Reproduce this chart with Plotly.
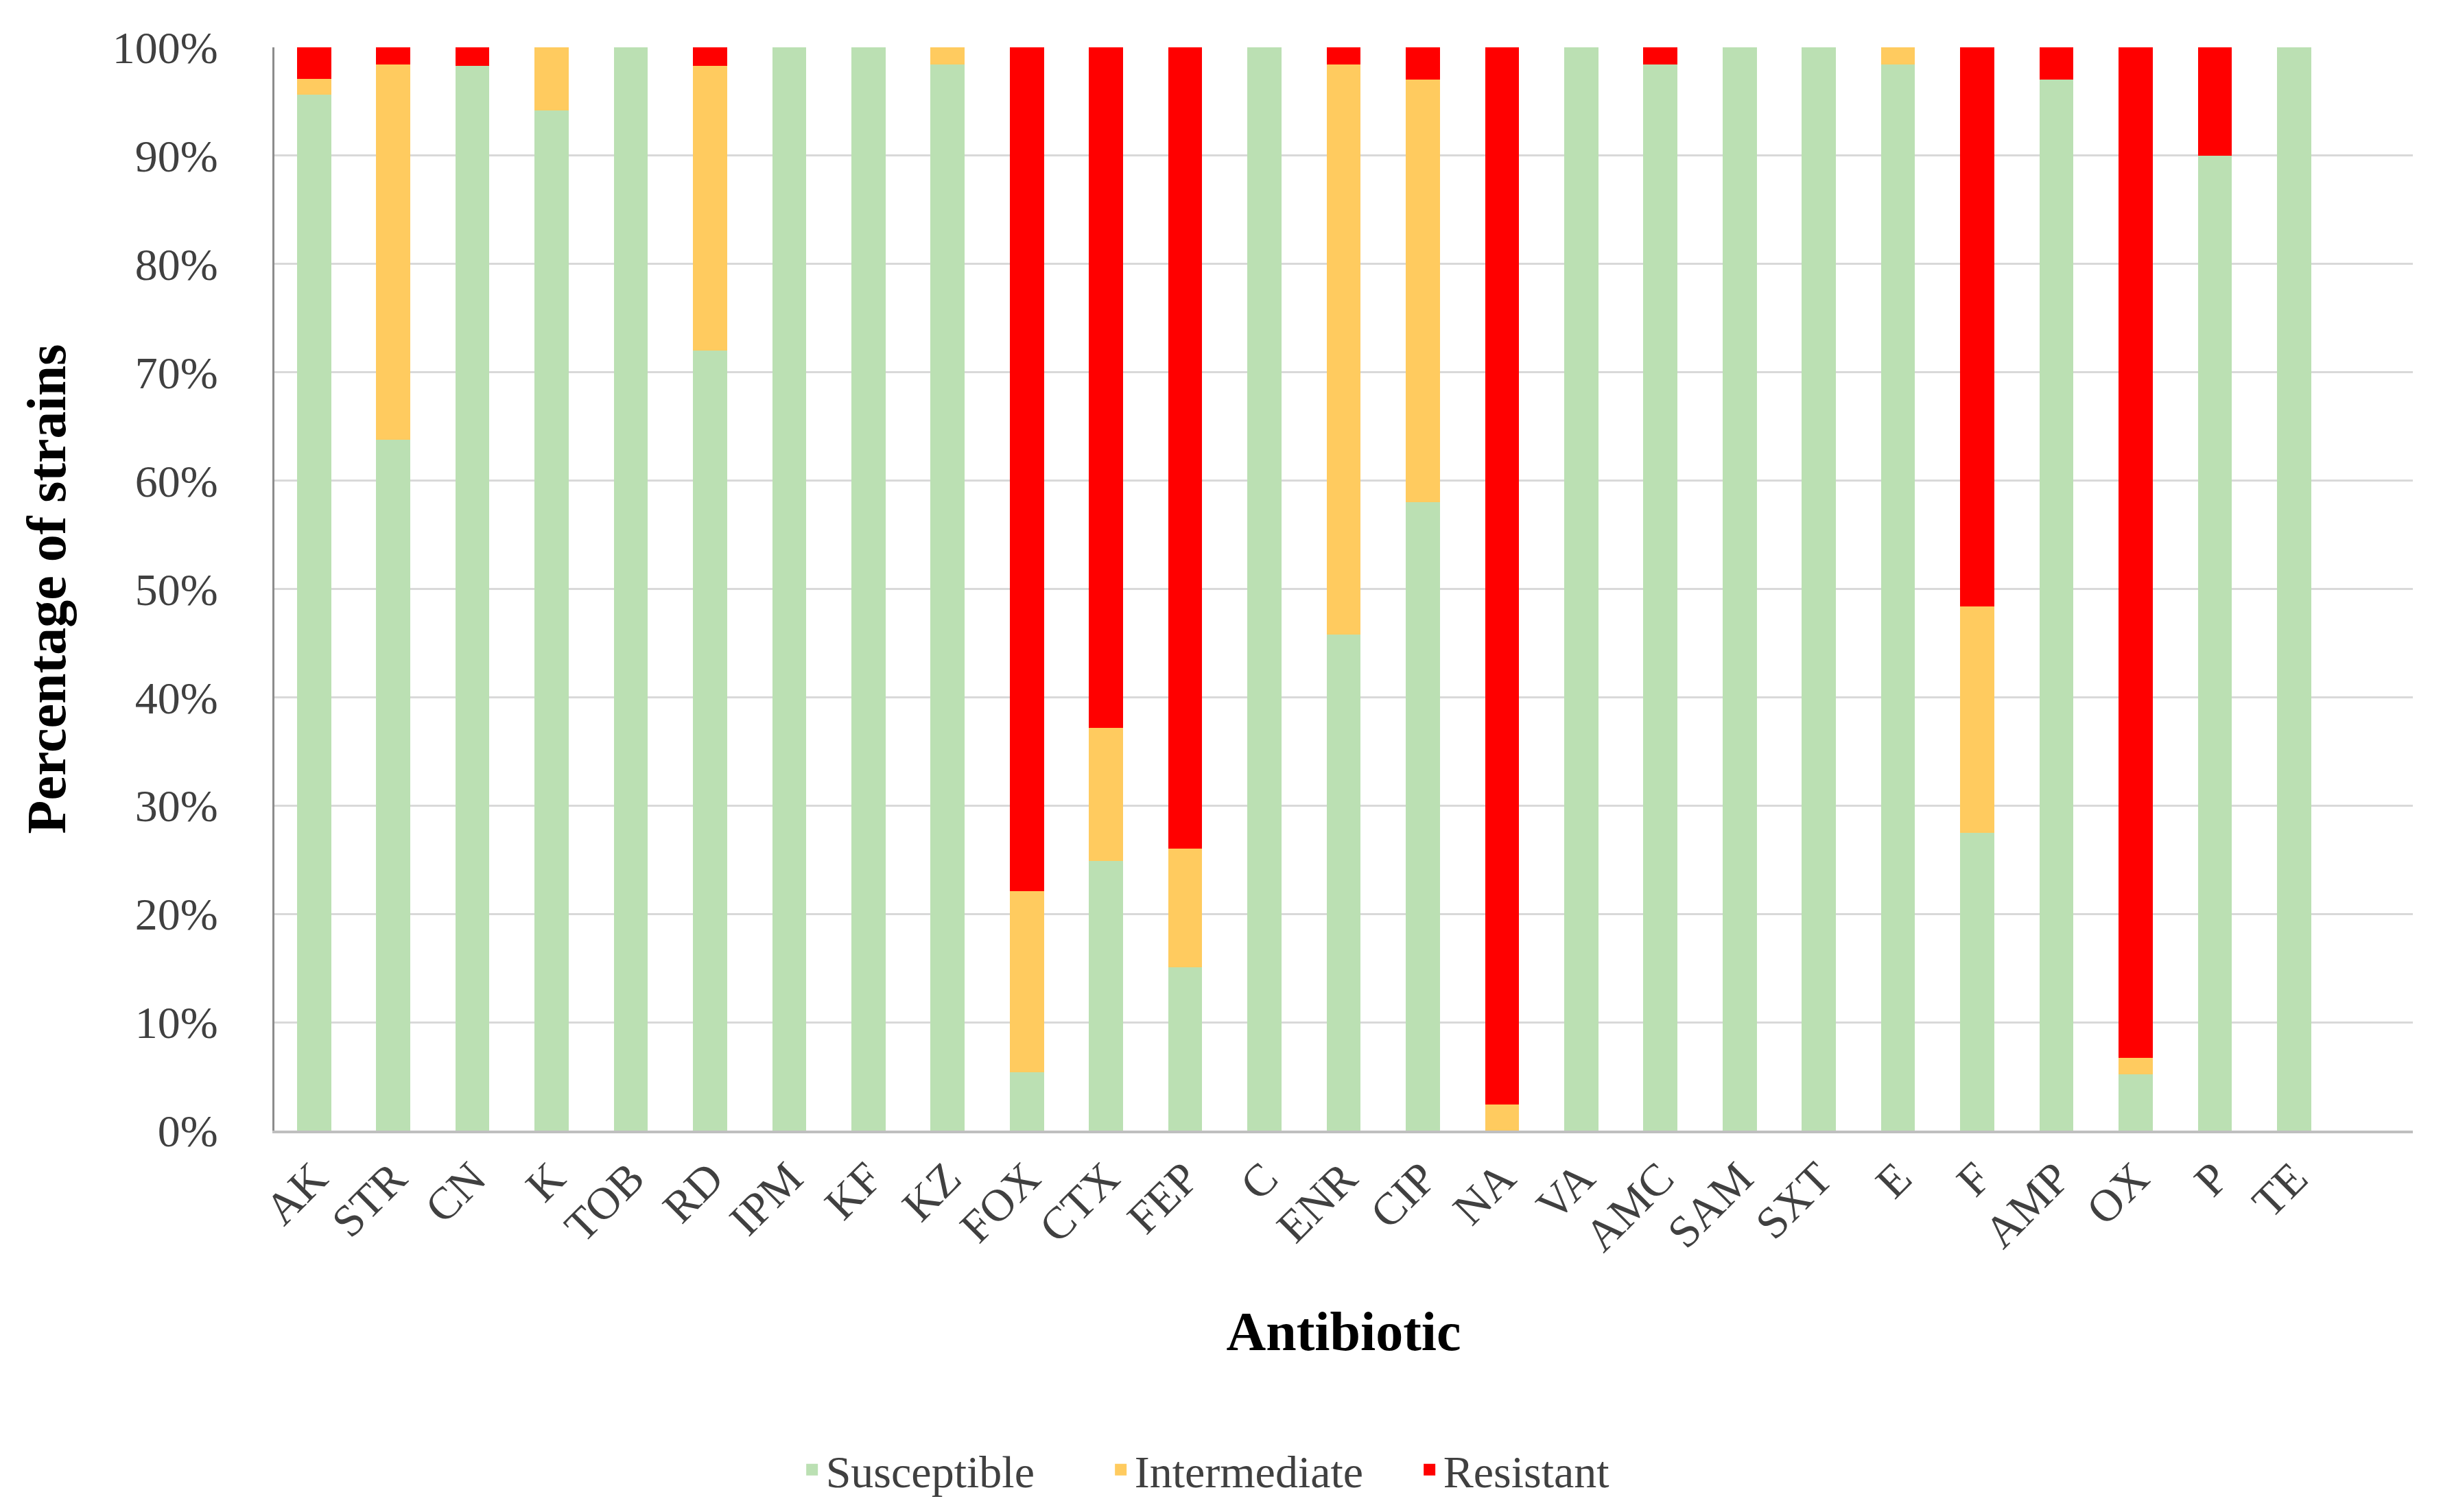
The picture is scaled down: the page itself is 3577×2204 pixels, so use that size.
import plotly.graph_objects as go

categories = ["AK", "STR", "CN", "K", "TOB", "RD", "IPM", "KF", "KZ", "FOX", "CTX", "FEP", "C",
              "ENR", "CIP", "NA", "VA", "AMC", "SAM", "SXT", "E", "F", "AMP", "OX", "P", "TE"]
susceptible = [95.6, 63.8, 98.3, 94.2, 100, 72.0, 100, 100, 98.4, 5.4, 24.9, 15.1, 100,
               45.8, 58.0, 0, 100, 98.4, 100, 100, 98.4, 27.5, 97.0, 5.2, 90.0, 100]
intermediate = [1.5, 34.6, 0, 5.8, 0, 26.3, 0, 0, 1.6, 16.7, 12.3, 10.9, 0,
                52.6, 39.0, 2.4, 0, 0, 0, 0, 1.6, 20.9, 0, 1.5, 0, 0]
resistant = [2.9, 1.6, 1.7, 0, 0, 1.7, 0, 0, 0, 77.9, 62.8, 74.0, 0,
             1.6, 3.0, 97.6, 0, 1.6, 0, 0, 0, 51.6, 3.0, 93.3, 10.0, 0]
y_ticks = [0, 10, 20, 30, 40, 50, 60, 70, 80, 90, 100]
y_tick_labels = ["0%", "10%", "20%", "30%", "40%", "50%", "60%", "70%", "80%", "90%", "100%"]

FONT = "Palatino Linotype, Book Antiqua, Palatino, Liberation Serif, serif"
series = [("Susceptible", susceptible, "#BBE0B3"),
          ("Intermediate", intermediate, "#FFCB5F"),
          ("Resistant", resistant, "#FF0000")]

fig = go.Figure()
for name, vals, col in series:
    fig.add_trace(go.Bar(x=categories, y=vals, name=name, marker_color=col,
                         marker_line_width=0, legendgroup=name, showlegend=False))
# legend entries (no data), drawn with a thick outline so the key swatch is larger
for name, vals, col in series:
    fig.add_trace(go.Bar(x=[None], y=[None], name=name, marker_color=col,
                         marker_line=dict(width=5, color=col), legendgroup=name,
                         showlegend=True, hoverinfo="skip"))

fig.update_layout(
    barmode="stack",
    bargap=0.57,
    plot_bgcolor="white",
    paper_bgcolor="white",
    margin=dict(l=392, r=52, t=61, b=548, autoexpand=False),
    font=dict(family=FONT, size=66, color="#404040"),
    legend=dict(orientation="h", x=0.245, xanchor="left", y=-0.313, yanchor="middle",
                font=dict(family=FONT, size=66, color="#404040"), traceorder="normal",
                itemwidth=30, entrywidth=405, entrywidthmode="pixels"),
    showlegend=True,
)
fig.update_xaxes(
    type="category",
    categoryorder="array", categoryarray=categories,
    range=[-0.5, 26.5],
    tickangle=-45,
    tickfont=dict(family=FONT, size=66, color="#404040"),
    showline=True, linecolor="#BFBFBF", linewidth=4,
    showgrid=False, ticks="",
    title=dict(text="<b>Antibiotic</b>", font=dict(family=FONT, size=80, color="black"),
               standoff=76),
    automargin=False,
)
fig.update_yaxes(
    range=[0, 100],
    tickmode="array",
    tickvals=y_ticks,
    ticktext=y_tick_labels,
    tickfont=dict(family=FONT, size=66, color="#404040"),
    showgrid=True, gridcolor="#D9D9D9", gridwidth=3,
    showline=True, linecolor="#8C8C8C", linewidth=3,
    zeroline=False,
    ticks="", ticklabelstandoff=66,
    title=dict(text="<b>Percentage of strains</b>", font=dict(family=FONT, size=80, color="black"),
               standoff=42),
    automargin=False,
)

fig.write_html("out.html")
